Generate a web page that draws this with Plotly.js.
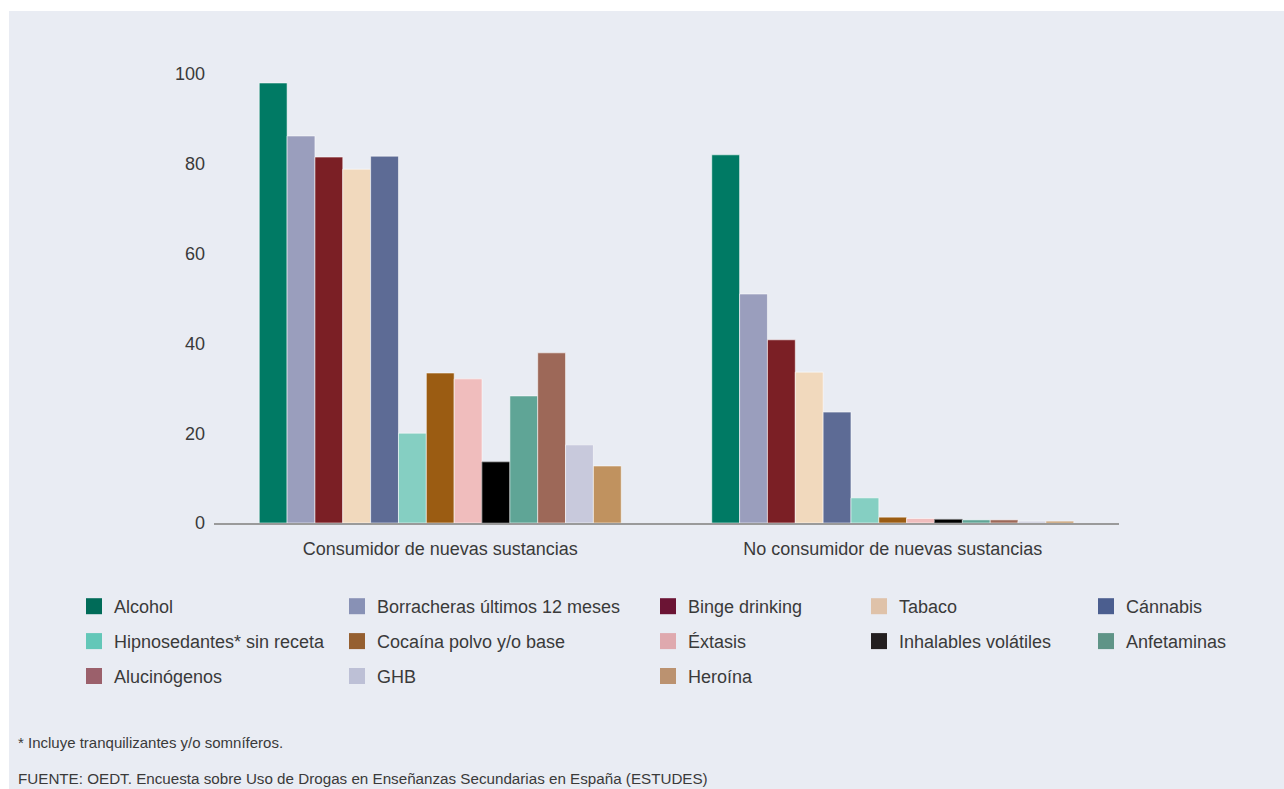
<!DOCTYPE html>
<html>
<head>
<meta charset="utf-8">
<script src="https://cdn.plot.ly/plotly-3.0.1.min.js"></script>
<style>
html, body { margin: 0; padding: 0; background: #ffffff; }
#chart { position: absolute; left: 9px; top: 11px; width: 1275px; height: 778px; }
</style>
</head>
<body>
<div id="chart"></div>
<script>
// ---- Data ----
const categories = ["Consumidor de nuevas sustancias", "No consumidor de nuevas sustancias"];
const seriesNames = [
  "Alcohol", "Borracheras últimos 12 meses", "Binge drinking", "Tabaco", "Cánnabis",
  "Hipnosedantes* sin receta", "Cocaína polvo y/o base", "Éxtasis", "Inhalables volátiles", "Anfetaminas",
  "Alucinógenos", "GHB", "Heroína"
];
const consumidorValues   = [98.0, 86.2, 81.5, 78.8, 81.7, 20.0, 33.4, 32.1, 13.6, 28.3, 37.9, 17.4, 12.7];
const noConsumidorValues = [82.0, 51.0, 40.8, 33.6, 24.7, 5.6, 1.3, 1.0, 0.8, 0.7, 0.7, 0.4, 0.4];
const barColors = [
  "#007a64", "#9a9ebd", "#7b1f25", "#f1d9bd", "#5d6b95",
  "#85cfc2", "#9b5c12", "#f0bdbd", "#000000", "#5fa596",
  "#9d6858", "#c8c9dc", "#c0925f"
];
const legendColors = [
  "#006b58", "#8891b5", "#6b1434", "#dfc2a9", "#4b5e8f",
  "#63c7b8", "#955f30", "#dfa9ae", "#231f20", "#5f9487",
  "#9b606b", "#bdc0d6", "#bb9270"
];
const yTicks = [0, 20, 40, 60, 80, 100];
const footnote = "* Incluye tranquilizantes y/o somníferos.";
const source = "FUENTE: OEDT. Encuesta sobre Uso de Drogas en Enseñanzas Secundarias en España (ESTUDES)";

// ---- Build ----
const FONT = "Liberation Sans, Arial, sans-serif";
const TXT = "#3a3a3a";
const W = 1275, H = 778;
const legendIds = ["legend", "legend2", "legend3", "legend4", "legend5"];
const legendX = [65, 328, 639, 850, 1077];

const traces = [];
seriesNames.forEach((name, i) => {
  traces.push({
    type: "bar",
    name: name,
    x: categories,
    y: [consumidorValues[i], noConsumidorValues[i]],
    marker: { color: barColors[i], line: { color: i === 8 ? "rgba(120,120,120,0.8)" : "rgba(255,255,255,0.55)", width: 1 } },
    showlegend: false,
    hoverinfo: "x+y+name"
  });
});
seriesNames.forEach((name, i) => {
  traces.push({
    type: "scatter",
    mode: "markers",
    name: name,
    x: [null], y: [null],
    marker: { symbol: "square", size: 16, color: legendColors[i], line: { width: 0 } },
    legend: legendIds[i % 5],
    legendgroup: "g" + i,
    showlegend: true,
    hoverinfo: "skip"
  });
});

const layout = {
  width: W, height: H,
  paper_bgcolor: "#e9ecf3",
  plot_bgcolor: "#e9ecf3",
  margin: { l: 205, r: 165, t: 63, b: 266, autoexpand: false },
  font: { family: FONT, size: 18, color: TXT },
  barmode: "group",
  bargap: 0.2,
  bargroupgap: 0,
  xaxis: {
    type: "category",
    categoryorder: "array",
    categoryarray: categories,
    range: [-0.5, 1.5],
    showgrid: false,
    zeroline: false,
    showline: true,
    linecolor: "#9a9a9a",
    linewidth: 1.5,
    ticks: "",
    ticklabelstandoff: 9,
    automargin: false,
    tickfont: { family: FONT, size: 18, color: TXT },
    fixedrange: true
  },
  yaxis: {
    range: [0, 100],
    tickvals: yTicks,
    ticktext: yTicks.map(String),
    showgrid: false,
    zeroline: false,
    showline: false,
    ticks: "",
    ticklabelstandoff: 8,
    automargin: false,
    tickfont: { family: FONT, size: 18, color: TXT },
    fixedrange: true
  },
  annotations: [
    { text: footnote, xref: "paper", yref: "paper", x: (7 - 205) / 905, y: (512 - 731) / 449,
      xanchor: "left", yanchor: "middle", showarrow: false, font: { family: FONT, size: 15, color: TXT } },
    { text: source, xref: "paper", yref: "paper", x: (7 - 205) / 905, y: (512 - 767) / 449,
      xanchor: "left", yanchor: "middle", showarrow: false, font: { family: FONT, size: 15.2, color: TXT } }
  ]
};

legendIds.forEach((id, k) => {
  layout[id] = {
    xref: "container", yref: "container",
    x: legendX[k] / W, y: 1 - 577 / H,
    xanchor: "left", yanchor: "top",
    orientation: "v",
    bgcolor: "rgba(0,0,0,0)",
    borderwidth: 0,
    itemsizing: "trace",
    tracegroupgap: 8.5,
    font: { family: FONT, size: 18, color: TXT }
  };
});

Plotly.newPlot("chart", traces, layout, { displayModeBar: false });
</script>
</body>
</html>
